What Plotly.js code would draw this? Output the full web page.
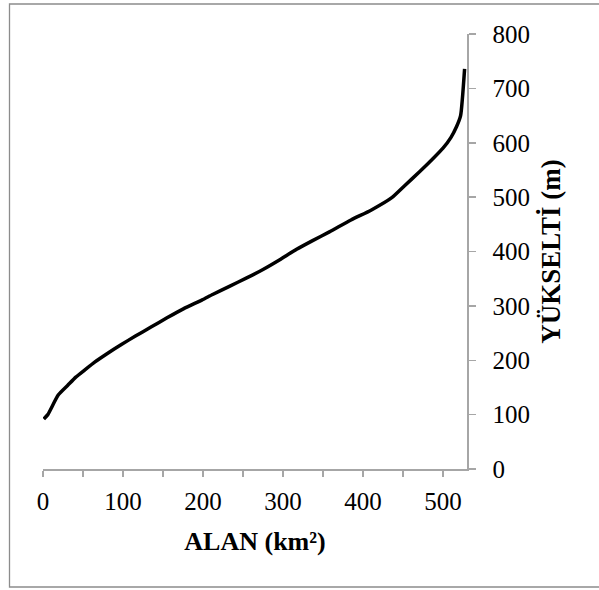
<!DOCTYPE html>
<html>
<head>
<meta charset="utf-8">
<script src="https://cdn.plot.ly/plotly-3.0.1.min.js"></script>
<style>html,body{margin:0;padding:0;background:#fff;}#chart{width:599px;height:590px;}</style>
</head>
<body>
<div id="chart"></div>
<script>
// Hypsometric curve: area (km²) vs elevation (m)
const areaKm2 = [1, 6, 19, 31, 41, 52, 65, 80, 98, 115, 135, 155, 176, 199, 212, 233, 254, 275, 296, 317, 337, 358, 385, 410, 436, 452, 471, 487, 500, 510, 517, 522, 527];
const elevationM = [92, 100, 136, 154, 169, 182, 197, 212, 229, 244, 261, 278, 295, 311, 321, 336, 351, 367, 385, 404, 420, 436, 458, 476, 499, 521, 547, 570, 590, 610, 630, 650, 736];
const xTitle = "ALAN (km²)";
const yTitle = "YÜKSELTİ (m)";

const axisColor = "#a6a6a6";
const font = "Liberation Serif, Times New Roman, serif";

const trace = {
  x: areaKm2, y: elevationM, type: "scatter", mode: "lines",
  line: {color: "#000000", width: 3.5, shape: "spline", smoothing: 0.5},
  hoverinfo: "skip", showlegend: false
};

const layout = {
  width: 599, height: 590,
  margin: {l: 43, r: 132, t: 34, b: 121, pad: 0},
  paper_bgcolor: "#ffffff", plot_bgcolor: "#ffffff",
  font: {family: font, color: "#000000", size: 25},
  xaxis: {
    range: [0, 530], dtick: 100, tick0: 0, showgrid: false, zeroline: false,
    showline: true, linecolor: axisColor, linewidth: 1.5,
    ticks: "outside", ticklen: 6, tickcolor: axisColor, tickwidth: 1.5,
    minor: {dtick: 50, ticks: "outside", ticklen: 6, tickcolor: axisColor, tickwidth: 1.5, showgrid: false},
    ticklabelstandoff: 3,
    tickfont: {family: font, size: 25, color: "#000"},
    title: {text: "<b>" + xTitle + "</b>", font: {family: font, size: 26, color: "#000"}, standoff: 18},
    automargin: false, fixedrange: true
  },
  yaxis: {
    range: [0, 800], dtick: 100, side: "right", showgrid: false, zeroline: false,
    showline: true, linecolor: axisColor, linewidth: 1.5,
    ticks: "outside", ticklen: 7, tickcolor: axisColor, tickwidth: 1.5,
    ticklabelstandoff: 12,
    tickfont: {family: font, size: 25, color: "#000"},
    title: {text: "<b>" + yTitle + "</b>", font: {family: font, size: 27, color: "#000"}, standoff: 12},
    automargin: false, fixedrange: true
  },
  shapes: [{
    type: "rect", xref: "paper", yref: "paper",
    x0: (9.5 - 43) / 424, x1: (605 - 43) / 424,
    y0: (469 - 587) / 435, y1: (469 - 4) / 435,
    line: {color: "#8c8c8c", width: 1.3}, fillcolor: "rgba(0,0,0,0)", layer: "below"
  }]
};

Plotly.newPlot("chart", [trace], layout, {displayModeBar: false, staticPlot: true});
</script>
</body>
</html>
